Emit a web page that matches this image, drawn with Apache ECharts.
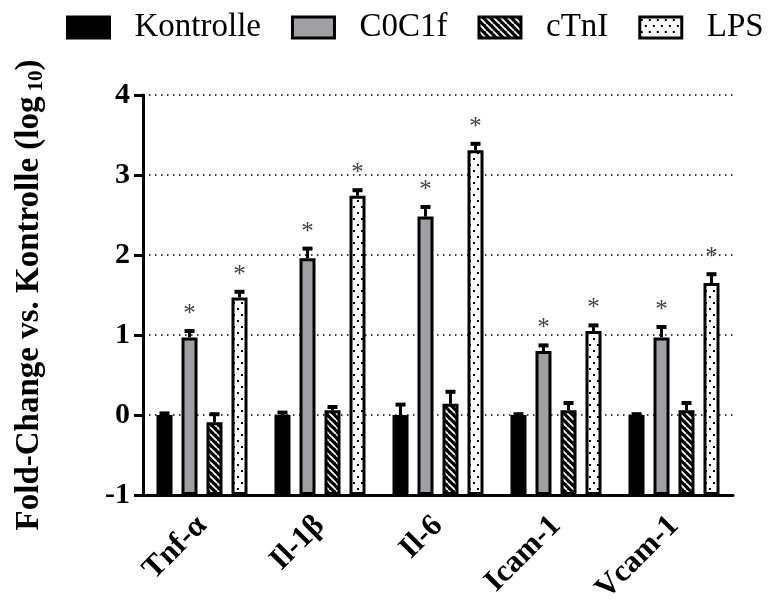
<!DOCTYPE html>
<html>
<head>
<meta charset="utf-8">
<script src="https://cdn.jsdelivr.net/npm/echarts@6/dist/echarts.min.js"></script>
<style>
  html, body { margin: 0; padding: 0; background: #fff; }
  #chart { width: 777px; height: 601px; }
</style>
</head>
<body>
<div id="chart"></div>
<script>
// ===== Data (log10 fold change vs. Kontrolle, mean + SEM) =====
const genes = ['Tnf-α', 'Il-1β', 'Il-6', 'Icam-1', 'Vcam-1'];
const groups = ['Kontrolle', 'C0C1f', 'cTnI', 'LPS'];
const kontrolle    = [0, 0, 0, 0, 0];
const kontrolleErr = [0.02, 0.03, 0.13, 0.01, 0.01];
const c0c1f        = [0.97, 1.96, 2.48, 0.80, 0.97];
const c0c1fErr     = [0.08, 0.12, 0.12, 0.07, 0.13];
const ctni         = [-0.09, 0.06, 0.14, 0.06, 0.06];
const ctniErr      = [0.10, 0.04, 0.15, 0.09, 0.09];
const lps          = [1.47, 2.74, 3.31, 1.05, 1.65];
const lpsErr       = [0.07, 0.07, 0.08, 0.07, 0.11];
const significant  = [false, true, false, true];   // asterisk over C0C1f and LPS
const yTicks       = [-1, 0, 1, 2, 3, 4];

const values = [kontrolle, c0c1f, ctni, lps];
const errors = [kontrolleErr, c0c1fErr, ctniErr, lpsErr];

// ===== Look =====
const SERIF = "'Liberation Serif', 'Times New Roman', serif";
const BAR_W = 16, BAR_GAP = 0.5625;
const PITCH = BAR_W * (1 + BAR_GAP);

// ===== Fill patterns =====
function hatch() {
  const c = document.createElement('canvas');
  c.width = 7; c.height = 7;
  const g = c.getContext('2d');
  g.fillStyle = '#000'; g.fillRect(0, 0, 7, 7);
  g.strokeStyle = '#fff'; g.lineWidth = 1.8;
  g.beginPath();
  g.moveTo(-7, 0); g.lineTo(0, 7);
  g.moveTo(0, 0);  g.lineTo(7, 7);
  g.moveTo(7, 0);  g.lineTo(14, 7);
  g.stroke();
  return c;
}
function dots() {
  const c = document.createElement('canvas');
  c.width = 8; c.height = 12;
  const g = c.getContext('2d');
  g.fillStyle = '#fff'; g.fillRect(0, 0, 8, 12);
  g.fillStyle = '#000';
  g.fillRect(1, 2, 2, 2);
  g.fillRect(5, 8, 2, 2);
  return c;
}
const fills = ['#000', '#a09fa4', { image: hatch(), repeat: 'repeat' }, { image: dots(), repeat: 'repeat' }];

// ===== Series =====
const barSeries = groups.map((name, i) => ({
  type: 'bar',
  name,
  data: values[i],
  barWidth: BAR_W,
  barGap: (BAR_GAP * 100) + '%',
  itemStyle: { color: fills[i], borderColor: '#000', borderWidth: 3 },
  emphasis: { disabled: true }
}));

const errSeries = groups.map((name, i) => ({
  type: 'custom',
  name: 'err-' + name,
  z: 5,
  silent: true,
  data: genes.map((g, j) => [j, values[i][j], errors[i][j]]),
  encode: { x: 0, y: 1 },
  renderItem(params, api) {
    const x = api.coord([api.value(0), 0])[0] + (i - 1.5) * PITCH;
    const yTop = api.coord([api.value(0), api.value(1)])[1];
    const yErr = api.coord([api.value(0), api.value(1) + api.value(2)])[1];
    const children = [
      { type: 'line', shape: { x1: x, y1: yTop, x2: x, y2: yErr }, style: { stroke: '#000', lineWidth: 3 } },
      { type: 'line', shape: { x1: x - 5, y1: yErr, x2: x + 5, y2: yErr }, style: { stroke: '#000', lineWidth: 4 } }
    ];
    if (significant[i]) {
      children.push({
        type: 'text', x, y: yErr - 4,
        style: { text: '*', fill: '#444', font: '25px ' + SERIF, align: 'center', verticalAlign: 'bottom' }
      });
    }
    return { type: 'group', children };
  }
}));

// ===== Chart =====
const chart = echarts.init(document.getElementById('chart'));
chart.setOption({
  animation: false,
  backgroundColor: '#fff',
  grid: { left: 143, right: 44, top: 95, bottom: 106, containLabel: false, outerBoundsMode: 'none' },
  legend: {
    data: groups,
    left: 61, top: 6,
    icon: 'rect',
    itemWidth: 42, itemHeight: 21, itemGap: 30,
    selectedMode: false,
    itemStyle: { borderColor: '#000', borderWidth: 3 },
    textStyle: { fontFamily: SERIF, fontSize: 33, color: '#000', padding: [0, 0, 0, 20] }
  },
  xAxis: {
    type: 'category',
    data: genes,
    axisLine: { onZero: false, lineStyle: { color: '#000', width: 3 } },
    axisTick: { alignWithLabel: true, length: 12, lineStyle: { color: '#000', width: 3 } },
    axisLabel: {
      rotate: 45, margin: 26, padding: [24, 0, 0, 0],
      fontFamily: SERIF, fontWeight: 'bold', fontSize: 31, color: '#000'
    }
  },
  yAxis: {
    type: 'value',
    min: yTicks[0], max: yTicks[yTicks.length - 1], interval: 1,
    startValue: yTicks[0],
    name: 'Fold-Change vs. Kontrolle (log{sub|10})',
    nameLocation: 'middle',
    nameRotate: 90,
    nameGap: 96,
    nameTextStyle: {
      fontFamily: SERIF, fontWeight: 'bold', fontSize: 33, color: '#000',
      rich: { sub: { fontFamily: SERIF, fontWeight: 'bold', fontSize: 21, color: '#000', padding: [14, 0, 0, 5] } }
    },
    axisLine: { show: true, lineStyle: { color: '#000', width: 3 } },
    axisTick: { show: true, length: 9, lineStyle: { color: '#000', width: 3 } },
    axisLabel: { margin: 13, fontFamily: SERIF, fontWeight: 'bold', fontSize: 30, color: '#000' },
    splitLine: { show: true, lineStyle: { color: '#000', width: 1.5, type: [1.5, 4.5] } }
  },
  series: [...barSeries, ...errSeries]
});
</script>
</body>
</html>
